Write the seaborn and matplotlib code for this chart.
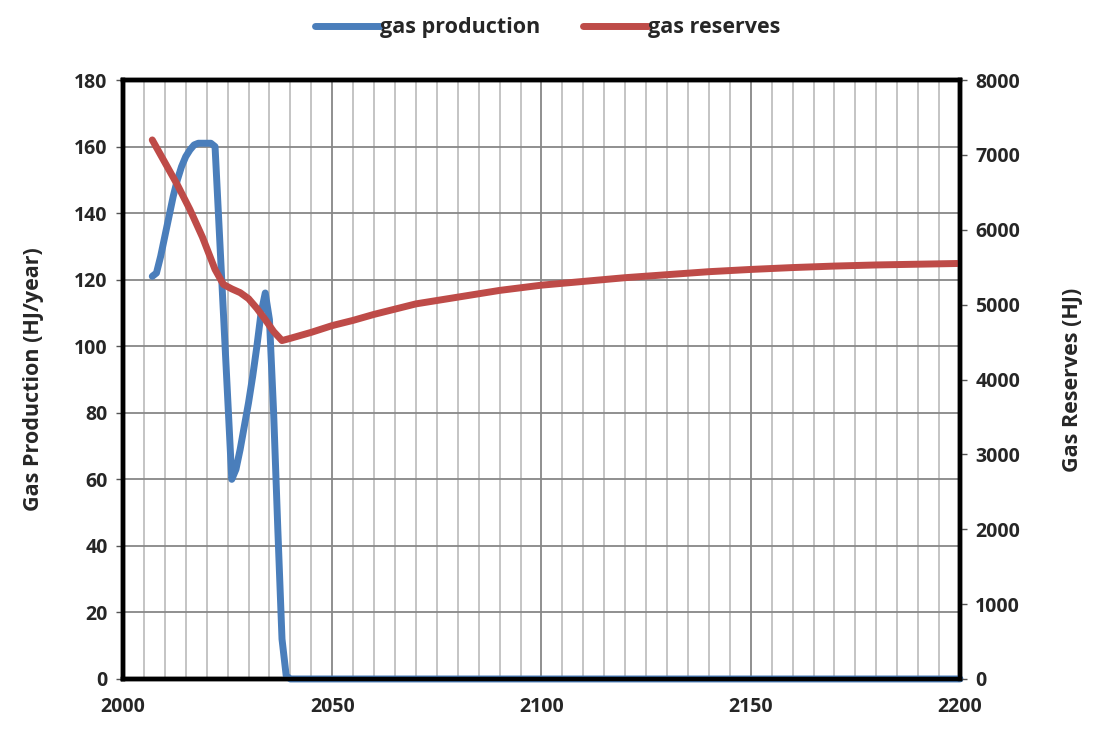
# import libraries
import pandas as pd
import seaborn as sns
import matplotlib.pyplot as plt
from matplotlib.ticker import MultipleLocator

# data
prod_years = [2007, 2008, 2009, 2010, 2011, 2012, 2013, 2014, 2015, 2016, 2017,
              2018, 2019, 2020, 2021, 2022, 2023, 2024, 2025, 2026, 2027, 2028,
              2029, 2030, 2031, 2032, 2033, 2034, 2035, 2036, 2037, 2038, 2039,
              2040, 2200]
gas_production = [121, 122, 127, 133, 139, 145, 150, 154, 157, 159, 160.5,
                  161, 161, 161, 161, 160, 135, 110, 85, 60, 63, 69,
                  76, 83, 91, 100, 110, 116, 108, 80, 45, 12, 1,
                  0, 0]

res_years = [2007, 2010, 2013, 2016, 2019, 2022, 2024, 2026, 2028, 2030, 2032,
             2034, 2036, 2038, 2040, 2045, 2050, 2055, 2060, 2070, 2080, 2090,
             2100, 2110, 2120, 2130, 2140, 2150, 2160, 2170, 2180, 2190, 2200]
gas_reserves = [7200, 6900, 6600, 6270, 5900, 5470, 5270, 5210, 5160, 5080, 4950,
                4800, 4640, 4520, 4550, 4630, 4720, 4790, 4870, 5010, 5100, 5190,
                5260, 5310, 5360, 5400, 5440, 5470, 5495, 5515, 5530, 5540, 5550]

prod = pd.DataFrame({"year": prod_years, "value": gas_production})
res = pd.DataFrame({"year": res_years, "value": gas_reserves})

sns.set_style("white")
plt.rcParams["font.family"] = ["Open Sans", "DejaVu Sans"]
plt.rcParams["font.weight"] = "bold"

blue = "#4A7EBB"
red = "#BE4B48"

fig = plt.figure(figsize=(10.95, 7.5), dpi=100)
ax = fig.add_axes([0.1123, 0.0947, 0.7644, 0.7986])

# gridlines
ax.set_xlim(2000, 2200)
ax.set_ylim(0, 180)
ax.xaxis.set_major_locator(MultipleLocator(50))
ax.xaxis.set_minor_locator(MultipleLocator(5))
ax.yaxis.set_major_locator(MultipleLocator(20))
ax.grid(which="minor", axis="x", color="#BFBFBF", lw=1.3)
ax.grid(which="major", axis="x", color="#878787", lw=1.3)
ax.grid(which="major", axis="y", color="#878787", lw=1.3)
ax.set_axisbelow(True)

# gas production
sns.lineplot(x="year", y="value", data=prod, ax=ax, color=blue, lw=5,
             solid_capstyle="round", solid_joinstyle="round", label="gas production",
             legend=False, clip_on=False, zorder=5)

# gas reserves on second axis
ax2 = ax.twinx()
sns.lineplot(x="year", y="value", data=res, ax=ax2, color=red, lw=5,
             solid_capstyle="round", solid_joinstyle="round", label="gas reserves",
             legend=False)
ax2.set_ylim(0, 8000)
ax2.yaxis.set_major_locator(MultipleLocator(1000))

ax.set_xlabel("")
ax.set_ylabel("Gas Production (HJ/year)", fontsize=15.5, fontweight="bold", labelpad=22)
ax2.set_ylabel("Gas Reserves (HJ)", fontsize=15.5, fontweight="bold", labelpad=30)

for a in (ax, ax2):
    for s in a.spines.values():
        s.set_linewidth(3.2)
        s.set_color("black")
    a.tick_params(axis="both", which="major", labelsize=14, length=5, width=1,
                  direction="out", color="#555555", pad=6)
    a.tick_params(axis="both", which="minor", length=0)
    for t in a.get_xticklabels() + a.get_yticklabels():
        t.set_fontweight("bold")
ax.tick_params(axis="x", pad=8)

# legend on top
h1, l1 = ax.get_legend_handles_labels()
h2, l2 = ax2.get_legend_handles_labels()
fig.legend(h1 + h2, l1 + l2, loc="center", bbox_to_anchor=(0.5, 0.963), ncol=2,
           frameon=False, handlelength=3.0, handletextpad=0.0, columnspacing=2.0,
           prop={"size": 15.5, "weight": "bold"})

plt.savefig("out.png", dpi=100)
